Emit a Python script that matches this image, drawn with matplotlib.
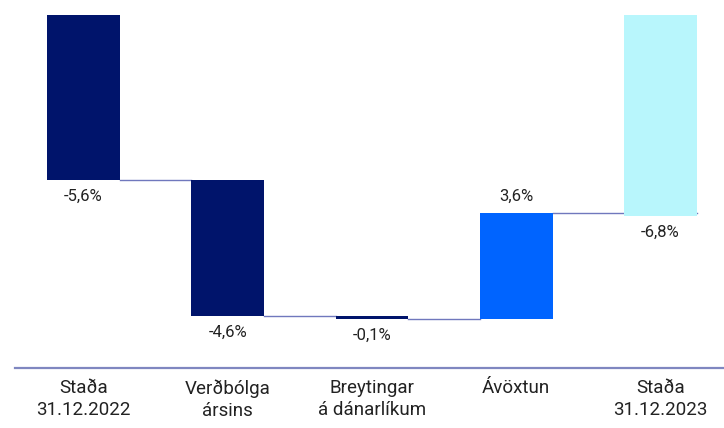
import numpy as np
import matplotlib
matplotlib.use("Agg")
import matplotlib.pyplot as plt

# data
categories = ["Staða\n31.12.2022", "Verðbólga\nársins", "Breytingar\ná dánarlíkum", "Ávöxtun", "Staða\n31.12.2023"]
start_value = -5.6
changes = [-4.6, -0.1, 3.6]
end_value = -6.8
bar_colors = ["#00146b", "#00146b", "#00146b", "#0064ff", "#b8f6fc"]

plt.rcParams['font.family'] = ['Roboto', 'DejaVu Sans']

fig = plt.figure(figsize=(7.24, 4.28), dpi=100)
ax = fig.add_axes([15 / 724, 60 / 428, 709 / 724, 353 / 428])

x = np.arange(len(categories))
width = 0.505

# bottoms/heights for the waterfall
levels = [start_value]
for c in changes:
    levels.append(levels[-1] + c)
bottoms = [0]
heights = [start_value]
for i, c in enumerate(changes):
    bottoms.append(levels[i])
    heights.append(c)
bottoms.append(0)
heights.append(end_value)

ax.bar(x, heights, width, bottom=bottoms, color=bar_colors, zorder=2)

# connector lines
conn = levels[:]  # level after each bar
for i in range(len(x) - 1):
    x0 = x[i] + width / 2
    x1 = x[i + 1] - width / 2 if i < len(x) - 2 else x[i + 1] + width / 2
    ax.plot([x0, x1], [conn[i], conn[i]], color="#7078bd", lw=1.0, zorder=1)

# value labels
vals = [start_value] + changes + [end_value]
for i, v in enumerate(vals):
    txt = ("%.1f%%" % v).replace(".", ",")
    top = bottoms[i]
    bot = bottoms[i] + heights[i]
    if v >= 0 and i not in (0, len(vals) - 1):
        y = max(top, bot) + 0.3
        va = "bottom"
    else:
        y = min(top, bot) - 0.3
        va = "top"
    ax.text(x[i], y, txt, ha="center", va=va, fontsize=12, color="#222222")

ax.set_xlim(-0.475, 4.44)
ax.set_ylim(-11.97, 0)
ax.set_xticks(x)
ax.set_xticklabels(categories, fontsize=13.5, color="#222222", linespacing=1.3)
ax.tick_params(axis="x", length=0, pad=8)
ax.set_yticks([])
for s in ["top", "left", "right"]:
    ax.spines[s].set_visible(False)
ax.spines["bottom"].set_color("#7f87c0")
ax.spines["bottom"].set_linewidth(1.6)

fig.savefig("out.png", dpi=100)
